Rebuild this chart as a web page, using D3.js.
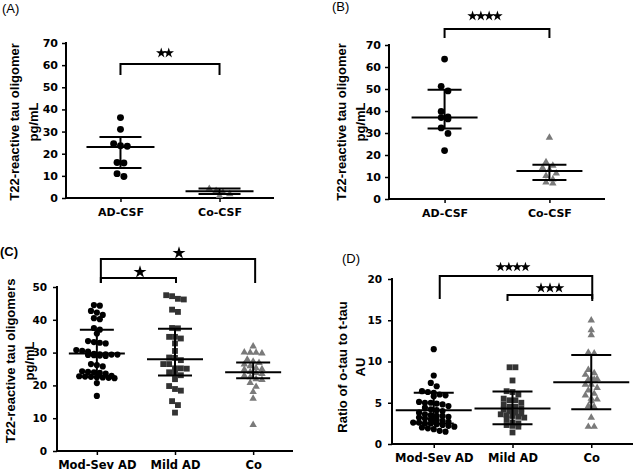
<!DOCTYPE html>
<html>
<head>
<meta charset="utf-8">
<script src="https://cdn.jsdelivr.net/npm/d3@7"></script>
<style>
  body { margin: 0; background: #fff; }
  svg { display: block; }
  .tick text { font-family: "DejaVu Sans", sans-serif; font-weight: bold; fill: #000; }
  .ytitle { font-family: "Liberation Sans", Arial, sans-serif; font-weight: bold; font-size: 13px; }
  .plabel { font-family: "Liberation Sans", Arial, sans-serif; font-size: 13px; }
</style>
</head>
<body>
<svg id="chart" width="635" height="471"></svg>
<script>
// ---- data ----
var groupsA = ["AD-CSF", "Co-CSF"];
var valuesA = [
  [36.3, 31, 24.5, 23.6, 23.4, 16, 15.8, 11, 9.7],
  [4.2, 3.2, 2.5, 1.8, 1.0]
];
var barsA = [[23, 13.5, 27.5], [3, 1.8, 4.3]];   // centre, low, high
var ticksA = [0, 10, 20, 30, 40, 50, 60, 70];

var groupsB = ["AD-CSF", "Co-CSF"];
var valuesB = [
  [63.6, 51.2, 49.1, 39.8, 37.3, 37.0, 36.4, 32.3, 29.8, 22],
  [27.9, 16.8, 15.2, 14.2, 13.2, 11.7, 10.5, 8.9, 7.6, 7.1]
];
var barsB = [[37.1, 32, 49.7], [12.7, 8.6, 15.6]];
var ticksB = [0, 10, 20, 30, 40, 50, 60, 70];

var groupsC = ["Mod-Sev AD", "Mild AD", "Co"];
var valuesC = [
  [44.5, 44.3, 42.7, 42.2, 41.5, 40.5, 40.2, 37.5, 37.0, 35.8, 33.5, 33.2, 33.0, 32.8,
   30.8, 30.5, 30.3, 29.6, 29.5, 29.5, 29.4, 29.4, 29.3, 29.2, 29.1, 29.0, 26.5, 26.2,
   25.8, 24.3, 24.1, 24.0, 23.8, 23.6, 22.9, 22.8, 22.7, 22.6, 22.5, 22.4, 22.3, 22.2,
   20.7, 16.8],
  [47.5, 47.2, 46.4, 46.2, 43.1, 42.4, 37.5, 37.4, 34.8, 34.8, 34.3, 32.8, 30.5, 28.5,
   28.4, 27.7, 26.5, 26.5, 25.2, 25.2, 25.1, 24.0, 23.6, 23.1, 21.9, 19.8, 18.9, 18.4,
   15.2, 14.0, 11.7],
  [31.9, 30.1, 30.0, 30.0, 29.8, 27.9, 27.3, 26.9, 26.4, 25.9, 25.3, 25.0, 24.8, 24.1,
   23.8, 23.5, 23.0, 22.5, 21.9, 21.7, 20.8, 19.6, 18.0, 16.0, 8.0]
];
var barsC = [[29.7, 22.6, 37], [28, 23, 37.3], [24, 22.2, 27]];
var ticksC = [0, 10, 20, 30, 40, 50];

var groupsD = ["Mod-Sev AD", "Mild AD", "Co"];
var valuesD = [
  [11.5, 8.3, 7.4, 7.0, 6.4, 6.3, 6.2, 6.0, 5.9, 5.8, 5.1, 5.0, 5.0, 4.9, 4.8, 4.6, 4.4,
   4.2, 4.1, 4.0, 3.8, 3.6, 3.5, 3.4, 3.4, 3.3, 3.2, 3.1, 3.0, 2.9, 2.8, 2.7, 2.6, 2.6,
   2.5, 2.5, 2.4, 2.3, 2.2, 2.1, 2.0, 1.9, 1.8, 1.6, 1.5],
  [9.3, 9.3, 7.7, 6.4, 6.3, 6.0, 5.5, 5.3, 5.3, 5.0, 4.8, 4.5, 4.5, 4.3, 4.2, 4.0, 3.8,
   3.7, 3.6, 3.5, 3.4, 3.3, 3.2, 3.0, 2.6, 2.5, 2.3, 2.2, 2.1, 1.4],
  [15.0, 13.8, 13.2, 11.1, 11.0, 9.0, 8.6, 8.4, 7.9, 7.9, 7.8, 7.8, 7.2, 7.2, 6.8, 6.5,
   6.1, 5.9, 5.5, 5.4, 5.2, 4.6, 4.5, 3.2, 2.1, 2.1]
];
var barsD = [[4.1, 2.5, 6.2], [4.3, 2.4, 6.35], [7.5, 4.2, 10.8]];
var ticksD = [0, 5, 10, 15, 20];

// significance brackets: [from group, to group, number of stars]
var sigA = [[0, 1, 2]];
var sigB = [[0, 1, 4]];
var sigC = [[0, 2, 1], [0, 1, 1]];
var sigD = [[0, 2, 4], [1, 2, 3]];

var svg = d3.select("#chart");

var markers = [
  {type: d3.symbolCircle, fill: "#000"},
  {type: d3.symbolSquare, fill: "#333"},
  {type: d3.symbolTriangle, fill: "#7a7a7a"}
];

// lay points out in horizontal rows like a column scatter plot
swarm = function(vals, y, cx, d) {
  var pts = vals.map(function(v) { return {v: v, py: y(v)}; })
    .sort(function(a, b) { return a.py - b.py; });
  var rows = [], row = null;
  pts.forEach(function(p) {
    if (!row || p.py - row[0].py > d * 0.85) { row = []; rows.push(row); }
    row.push(p);
  });
  rows.forEach(function(r) {
    var n = r.length;
    r.forEach(function(p, i) { p.px = cx + (i - (n - 1) / 2) * d * 1.05; });
  });
  return pts;
}

drawPanel = function(p) {
  var g = svg.append("g");
  var y = d3.scaleLinear().domain([0, p.ticks[p.ticks.length - 1]]).range([p.bottom, p.top]);
  var x = d3.scalePoint().domain(p.groups).range([p.left, p.right]).padding(p.pad);

  // y axis
  var ya = g.append("g").attr("transform", "translate(" + p.left + ",0)")
    .call(d3.axisLeft(y).tickValues(p.ticks).tickSize(4).tickPadding(p.tpad).tickSizeOuter(0));
  ya.select(".domain").remove();
  ya.selectAll(".tick line").attr("stroke", "#000").attr("stroke-width", 1.5);
  ya.selectAll(".tick text").style("font-size", p.tfont + "px");
  g.append("line").attr("x1", p.left).attr("x2", p.left)
    .attr("y1", p.bottom + 1).attr("y2", p.top - 1)
    .attr("stroke", "#000").attr("stroke-width", 2);

  // x axis
  var xa = g.append("g").attr("transform", "translate(0," + p.bottom + ")")
    .call(d3.axisBottom(x).tickSize(4).tickPadding(p.xpad).tickSizeOuter(0));
  xa.select(".domain").remove();
  xa.selectAll(".tick line").attr("stroke", "#000").attr("stroke-width", 1.5);
  xa.selectAll(".tick text").style("font-size", p.xfont + "px");
  g.append("line").attr("x1", p.left - 1).attr("x2", p.right)
    .attr("y1", p.bottom).attr("y2", p.bottom)
    .attr("stroke", "#000").attr("stroke-width", 2);

  // y title, two lines
  var t = g.append("text").attr("class", "ytitle")
    .attr("transform", "translate(" + p.titleX + "," + p.titleY + ") rotate(-90)")
    .attr("text-anchor", "middle");
  t.append("tspan").attr("x", 0).attr("y", 0).text(p.title[0]);
  t.append("tspan").attr("x", 0).attr("y", p.titleGap).text(p.title[1]);

  // panel letter
  g.append("text").attr("class", "plabel").attr("x", p.lx).attr("y", p.ly)
    .style("font-weight", p.lbold ? "bold" : "normal").text(p.label);

  // points
  p.values.forEach(function(vals, gi) {
    var m = markers[p.marks[gi]];
    var pts = swarm(vals, y, x(p.groups[gi]), p.dot);
    g.selectAll(null).data(pts).enter().append("path")
      .attr("d", d3.symbol().type(m.type).size(p.msize[p.marks[gi]]))
      .attr("transform", function(d) { return "translate(" + d.px + "," + d.py + ")"; })
      .attr("fill", m.fill);
  });

  // centre line with error bars
  p.bars.forEach(function(b, gi) {
    var cx = x(p.groups[gi]);
    var eb = g.append("g").attr("stroke", "#000").attr("stroke-width", 2);
    eb.append("line").attr("x1", cx - p.mw).attr("x2", cx + p.mw).attr("y1", y(b[0])).attr("y2", y(b[0]));
    eb.append("line").attr("x1", cx - p.cw).attr("x2", cx + p.cw).attr("y1", y(b[1])).attr("y2", y(b[1]));
    eb.append("line").attr("x1", cx - p.cw).attr("x2", cx + p.cw).attr("y1", y(b[2])).attr("y2", y(b[2]));
    eb.append("line").attr("x1", cx).attr("x2", cx).attr("y1", y(b[1])).attr("y2", y(b[2]));
  });

  // significance brackets
  p.sig.forEach(function(s, i) {
    var br = p.brackets[i];
    var x1 = x(p.groups[s[0]]) + br.dx1, x2 = x(p.groups[s[1]]) + br.dx2;
    g.append("path")
      .attr("d", "M" + x1 + "," + br.l1 + "V" + br.top + "H" + x2 + "V" + br.l2)
      .attr("fill", "none").attr("stroke", "#000").attr("stroke-width", 2);
    var n = s[2], sw = br.sw;
    var sx = br.sx != null ? br.sx : (x1 + x2) / 2;
    d3.range(n).forEach(function(k) {
      g.append("path")
        .attr("d", d3.symbol().type(d3.symbolStar).size(br.ss))
        .attr("transform", "translate(" + (sx + (k - (n - 1) / 2) * sw) + "," + br.sy + ")")
        .attr("fill", "#000");
    });
  });
}

drawPanel({
  label: "(A)", lx: 2, ly: 13, lbold: false,
  groups: groupsA, values: valuesA, bars: barsA, ticks: ticksA, sig: sigA,
  left: 66, right: 274, top: 43, bottom: 198, pad: 0.55,
  tfont: 11, tpad: 4, xfont: 11, xpad: 6,
  title: ["T22-reactive tau oligomer", "pg/mL"], titleX: 19, titleY: 122, titleGap: 19,
  marks: [0, 2], msize: [38, 36, 24], dot: 6.5, mw: 34, cw: 21,
  brackets: [{dx1: 0, dx2: 0, l1: 75, l2: 75, top: 64, sx: 165, sy: 53, sw: 7.5, ss: 34}]
});

drawPanel({
  label: "(B)", lx: 332, ly: 11, lbold: false,
  groups: groupsB, values: valuesB, bars: barsB, ticks: ticksB, sig: sigB,
  left: 389, right: 605, top: 45, bottom: 199, pad: 0.53,
  tfont: 11, tpad: 4, xfont: 11, xpad: 6,
  title: ["T22-reactive tau oligomer", "pg/mL"], titleX: 346, titleY: 122, titleGap: 19,
  marks: [0, 2], msize: [36, 36, 24], dot: 6.5, mw: 33, cw: 17,
  brackets: [{dx1: 0, dx2: 0, l1: 38, l2: 38, top: 29, sx: 485, sy: 16, sw: 8.3, ss: 34}]
});

drawPanel({
  label: "(C)", lx: 0, ly: 256, lbold: true,
  groups: groupsC, values: valuesC, bars: barsC, ticks: ticksC, sig: sigC,
  left: 57, right: 293, top: 287, bottom: 451, pad: 0.51,
  tfont: 10.5, tpad: 6, xfont: 11.5, xpad: 6,
  title: ["T22-reactive tau oligomers", "pg/mL"], titleX: 15, titleY: 361, titleGap: 19,
  marks: [0, 1, 2], msize: [30, 34, 24], dot: 5.6, mw: 28, cw: 17,
  brackets: [
    {dx1: 4, dx2: 2, l1: 283, l2: 283, top: 259, sy: 253, sw: 0, ss: 52, sx: 179},
    {dx1: 4, dx2: 1, l1: 283, l2: 283, top: 278, sy: 272, sw: 0, ss: 52, sx: 140}
  ]
});

drawPanel({
  label: "(D)", lx: 342, ly: 263, lbold: false,
  groups: groupsD, values: valuesD, bars: barsD, ticks: ticksD, sig: sigD,
  left: 392, right: 633, top: 279, bottom: 444, pad: 0.53,
  tfont: 10.5, tpad: 6, xfont: 11.5, xpad: 6,
  title: ["Ratio of o-tau to t-tau", "AU"], titleX: 347, titleY: 367, titleGap: 18,
  marks: [0, 1, 2], msize: [30, 34, 24], dot: 5.6, mw: 38, cw: 20,
  brackets: [
    {dx1: 6, dx2: 1, l1: 299, l2: 299, top: 276, sy: 267, sw: 8.3, ss: 32, sx: 513},
    {dx1: -5, dx2: 1, l1: 301, l2: 301, top: 295, sy: 288, sw: 9, ss: 36, sx: 550}
  ]
});
</script>
</body>
</html>
